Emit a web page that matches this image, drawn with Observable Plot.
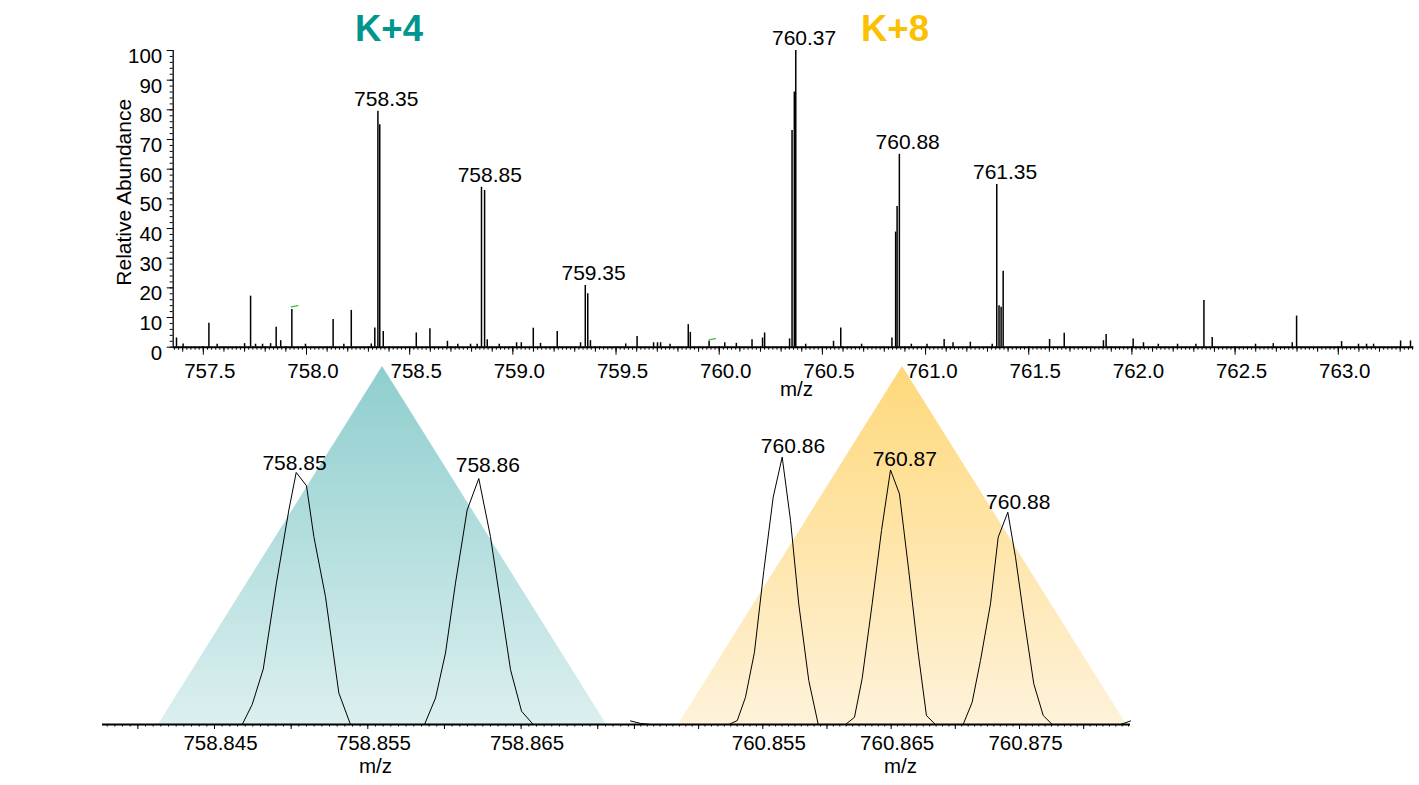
<!DOCTYPE html>
<html><head><meta charset="utf-8">
<script src="https://cdn.jsdelivr.net/npm/d3@7"></script>
<script src="https://cdn.jsdelivr.net/npm/@observablehq/plot@0.6"></script>
<style>
html,body{margin:0;padding:0;background:#fff;}
#wrap{position:relative;width:1419px;height:785px;overflow:hidden;font-family:"Liberation Sans",Arial,Helvetica,sans-serif;}
.panel{position:absolute;}
.title{position:absolute;font-weight:bold;font-size:36.5px;line-height:1;transform:translateX(-50%);white-space:nowrap;}
</style></head>
<body><div id="wrap"></div>
<script>
// ---------- data: full scan spectrum ----------
const topMz = [757.370,757.402,757.527,757.567,757.700,757.729,757.753,757.787,757.826,757.853,757.875,757.929,757.995,
  758.129,758.181,758.217,758.314,758.331,758.346,758.355,758.372,758.532,758.598,758.683,758.733,758.795,758.827,
  758.848,758.863,758.876,758.934,759.018,759.041,759.099,759.134,759.215,759.328,759.351,759.363,759.376,
  759.547,759.602,759.682,759.701,759.716,759.762,759.850,759.860,759.951,760.027,760.083,760.159,760.210,760.220,
  760.341,760.353,760.364,760.371,760.419,760.554,760.589,760.690,760.837,760.855,760.862,760.873,760.931,
  761.007,761.090,761.133,761.217,761.323,761.345,761.356,761.366,761.376,761.601,761.672,761.862,761.875,
  762.006,762.056,762.128,762.221,762.310,762.349,762.389,762.599,762.685,762.777,762.798,
  763.016,763.098,763.137,763.171,763.302,763.350];
const topIntensity = [3.1,1.1,8.1,1.0,1.2,17.2,1.0,1.0,1.2,6.7,2.2,12.7,1.0,
  9.3,1.0,12.4,1.1,6.5,79.5,75.0,5.3,4.8,6.2,2.0,1.0,1.0,1.0,
  53.9,52.8,2.5,1.0,1.5,1.5,6.4,1.3,5.3,1.5,20.8,18.0,2.2,
  1.1,3.6,1.5,1.5,1.5,1.0,7.6,5.0,2.0,1.5,1.3,2.5,3.1,4.8,
  2.8,73.0,86.0,100.0,1.0,2.0,6.5,1.0,3.1,38.8,47.4,65.0,1.0,
  1.0,2.6,1.5,1.7,1.0,54.8,14.0,13.5,25.6,2.6,4.7,2.2,4.3,
  2.8,1.5,1.0,1.0,1.0,15.7,3.3,1.0,1.2,1.5,10.5,
  1.9,1.0,1.0,1.0,2.1,2.1];
const topLabelText = ["758.35","758.85","759.35","760.37","760.88","761.35"];
const topLabelMz = [758.346,758.848,759.351,760.371,760.873,761.345];
const topLabelInt = [79.5,53.9,20.8,100.0,65.0,54.8];
const topTickLabels = [757.5,758.0,758.5,759.0,759.5,760.0,760.5,761.0,761.5,762.0,762.5,763.0];
const yTickLabels = [0,10,20,30,40,50,60,70,80,90,100];
const greenMarkA = {mz:[757.926,757.958], int:[13.6,14.0]};
const greenMarkB = {mz:[759.951,759.982], int:[2.5,2.9]};

// ---------- data: K+4 zoom (758.85 cluster) ----------
const k4Mz = [758.84681,758.84746,758.84818,758.84904,758.84985,758.85033,758.85100,758.85148,758.85224,758.85311,758.85387,
  758.85870,758.85942,758.86007,758.86072,758.86148,758.86224,758.86300,758.86366,758.86431,758.86503,758.86579];
const k4Int = [0,5.6,15.5,39.5,59.9,70.4,66.7,52.5,35.7,8.8,0,
  0,7.4,20.0,39.5,59.9,68.7,52.5,33.9,15.3,3.7,0];
const k4LabelText = ["758.85","758.86"];
const k4LabelMz = [758.85022,758.86283];
const k4LabelY = [73.0,72.3];
const k4TickLabels = [758.845,758.855,758.865];
const k4Window = [758.84135,758.87057];

// ---------- data: K+8 zoom (760.88 cluster) ----------
const k8Mz = [760.84469,760.84547,760.84625,760.85235,760.85301,760.85365,760.85435,760.85508,760.85581,760.85651,760.85716,760.85780,760.85858,760.85932,
  760.86144,760.86214,760.86274,760.86352,760.86425,760.86495,760.86565,760.86637,760.86708,760.86775,760.86845,
  760.87061,760.87131,760.87196,760.87274,760.87334,760.87409,760.87469,760.87534,760.87611,760.87685,760.87755,760.88287,760.88365];
const k8Int = [1.0,0.3,0,0,1.1,7.6,20.2,43.0,63.5,74.7,57.0,33.7,12.3,0,
  0,2.0,12.8,33.7,54.2,71.1,64.4,43.0,20.7,2.5,0,
  0,6.2,17.9,33.7,52.3,59.3,46.7,30.0,11.4,2.5,0,0,1.0];
const k8LabelText = ["760.86","760.87","760.88"];
const k8LabelMz = [760.85735,760.86606,760.87490];
const k8LabelY = [77.7,74.0,62.1];
const k8TickLabels = [760.855,760.865,760.875];
const k8Window = [760.84843,760.88334];

// ---------- styling ----------
const FONT = '"Liberation Sans", Arial, Helvetica, sans-serif';
const TEAL = "#00968f", GOLD = "#fbc000";
const baseStyle = {fontFamily: FONT, fontSize: "20.5px", background: "transparent", overflow: "visible", color: "#000"};

const wrap = document.getElementById("wrap");
function place(node, left, top) {
  const div = document.createElement("div");
  div.className = "panel";
  div.style.left = left + "px"; div.style.top = top + "px";
  div.appendChild(node); wrap.appendChild(div);
}
function addGradient(svg, id, c0, c1) {
  const defs = d3.select(svg).insert("defs", ":first-child");
  const g = defs.append("linearGradient").attr("id", id)
    .attr("x1", 0).attr("y1", 0).attr("x2", 0).attr("y2", 1);
  g.append("stop").attr("offset", "0%").attr("stop-color", c0);
  g.append("stop").attr("offset", "100%").attr("stop-color", c1);
}
const seq = (a, b, step, dec) => d3.range(Math.round((b - a) / step) + 1).map(i => +(a + i * step).toFixed(dec));
const rows = (mz, v, key) => mz.map((m, i) => ({mz: m, [key]: v[i]}));

// ---------- top: full spectrum ----------
const topData = rows(topMz, topIntensity, "int");
const topLabels = topLabelText.map((t, i) => ({text: t, mz: topLabelMz[i], int: topLabelInt[i]}));
const xTop = [757.354, 763.366];
const topChart = Plot.plot({
  width: 1419, height: 400,
  marginTop: 50, marginBottom: 53.3, marginLeft: 172.7, marginRight: 5.7,
  x: {domain: xTop}, y: {domain: [0, 100]},
  style: baseStyle,
  marks: [
    Plot.ruleX(topData, {x: "mz", y1: 0, y2: "int", stroke: "#000", strokeWidth: 1.5}),
    Plot.line(rows(greenMarkA.mz, greenMarkA.int, "int"), {x: "mz", y: "int", stroke: "#3cbf3c", strokeWidth: 1.3}),
    Plot.line(rows(greenMarkB.mz, greenMarkB.int, "int"), {x: "mz", y: "int", stroke: "#3cbf3c", strokeWidth: 1.3}),
    Plot.ruleY([0], {stroke: "#000", strokeWidth: 2}),
    Plot.ruleX([xTop[0]], {y1: 0, y2: 100, stroke: "#000", strokeWidth: 1.3}),
    Plot.axisY({ticks: seq(0, 100, 2, 0), tickSize: 3, fill: "none", label: null}),
    Plot.axisY({ticks: yTickLabels, tickSize: 6, fill: "none", label: null}),
    Plot.axisY({ticks: yTickLabels, tickSize: 0, tickPadding: 11, dy: 6, label: null}),
    Plot.axisX({ticks: seq(757.36, 763.36, 0.02, 2), tickSize: 3, fill: "none", label: null}),
    Plot.axisX({ticks: seq(757.4, 763.3, 0.1, 1), tickSize: 5, fill: "none", label: null}),
    Plot.axisX({ticks: topTickLabels, tickSize: 8, fill: "none", label: null}),
    Plot.axisX({ticks: topTickLabels, tickSize: 0, tickPadding: 16, dx: 6.5, tickFormat: d3.format(".1f"), label: null}),
    Plot.text(topLabels, {x: "mz", y: "int", text: "text", dx: 8.3, dy: -12, fontSize: 21}),
    Plot.text(["m/z"], {text: d => d, frameAnchor: "bottom", lineAnchor: "middle", textAnchor: "middle", dx: 3, dy: 42, fontSize: 20.5}),
    Plot.text(["Relative Abundance"], {text: d => d, frameAnchor: "left", lineAnchor: "middle", textAnchor: "middle", rotate: -90, dx: -48.7, dy: -6.6, fontSize: 21})
  ]
});
place(topChart, 0, 0);

// ---------- zoom panels ----------
function zoomPanel({mz, int, labelText, labelMz, labelY, tickLabels, win, domain, minor, major, gradId, c0, c1, width, marginLeft, marginRight, mzDx}) {
  const tri = [{mz: win[0], y: 0}, {mz: (win[0] + win[1]) / 2, y: 100}, {mz: win[1], y: 0}];
  const labels = labelText.map((t, i) => ({text: t, mz: labelMz[i], y: labelY[i]}));
  const svg = Plot.plot({
    width, height: 435,
    marginTop: 16, marginBottom: 61, marginLeft, marginRight,
    x: {domain}, y: {domain: [0, 100], axis: null},
    style: baseStyle,
    marks: [
      Plot.areaY(tri, {x: "mz", y: "y", fill: `url(#${gradId})`}),
      Plot.line(rows(mz, int, "int"), {x: "mz", y: "int", stroke: "#000", strokeWidth: 1}),
      Plot.ruleY([0], {stroke: "#000", strokeWidth: 2}),
      Plot.axisX({ticks: minor, tickSize: 2.5, fill: "none", label: null}),
      Plot.axisX({ticks: major, tickSize: 5, fill: "none", label: null}),
      Plot.axisX({ticks: tickLabels, tickSize: 0, tickPadding: 11, dx: 6, tickFormat: d3.format(".3f"), label: null}),
      Plot.text(labels, {x: "mz", y: "y", text: "text", fontSize: 21}),
      Plot.text(["m/z"], {text: d => d, frameAnchor: "bottom", lineAnchor: "middle", textAnchor: "middle", dx: mzDx, dy: 42, fontSize: 20.5})
    ]
  });
  addGradient(svg, gradId, c0, c1);
  return svg;
}
const k4Svg = zoomPanel({mz: k4Mz, int: k4Int, labelText: k4LabelText, labelMz: k4LabelMz, labelY: k4LabelY,
  tickLabels: k4TickLabels, win: k4Window, domain: [758.837694, 758.872136],
  minor: seq(758.838, 758.872, 0.0005, 4), major: seq(758.840, 758.870, 0.005, 3),
  gradId: "gradK4", c0: "#8fcece", c1: "#dcefef", width: 640, marginLeft: 102, marginRight: 10, mzDx: 9});
place(k4Svg, 0, 350);
const k8Svg = zoomPanel({mz: k8Mz, int: k8Int, labelText: k8LabelText, labelMz: k8LabelMz, labelY: k8LabelY,
  tickLabels: k8TickLabels, win: k8Window, domain: [760.844692, 760.883648],
  minor: seq(760.845, 760.8835, 0.0005, 4), major: seq(760.845, 760.880, 0.005, 3),
  gradId: "gradK8", c0: "#fed87a", c1: "#fef2da", width: 520, marginLeft: 10, marginRight: 10, mzDx: 20});
place(k8Svg, 620, 350);

// ---------- titles ----------
function title(text, color, cx) {
  const d = document.createElement("div");
  d.className = "title"; d.textContent = text;
  d.style.color = color; d.style.left = cx + "px"; d.style.top = "10.8px";
  wrap.appendChild(d);
}
title("K+4", TEAL, 389);
title("K+8", GOLD, 895);
</script>
</body></html>
